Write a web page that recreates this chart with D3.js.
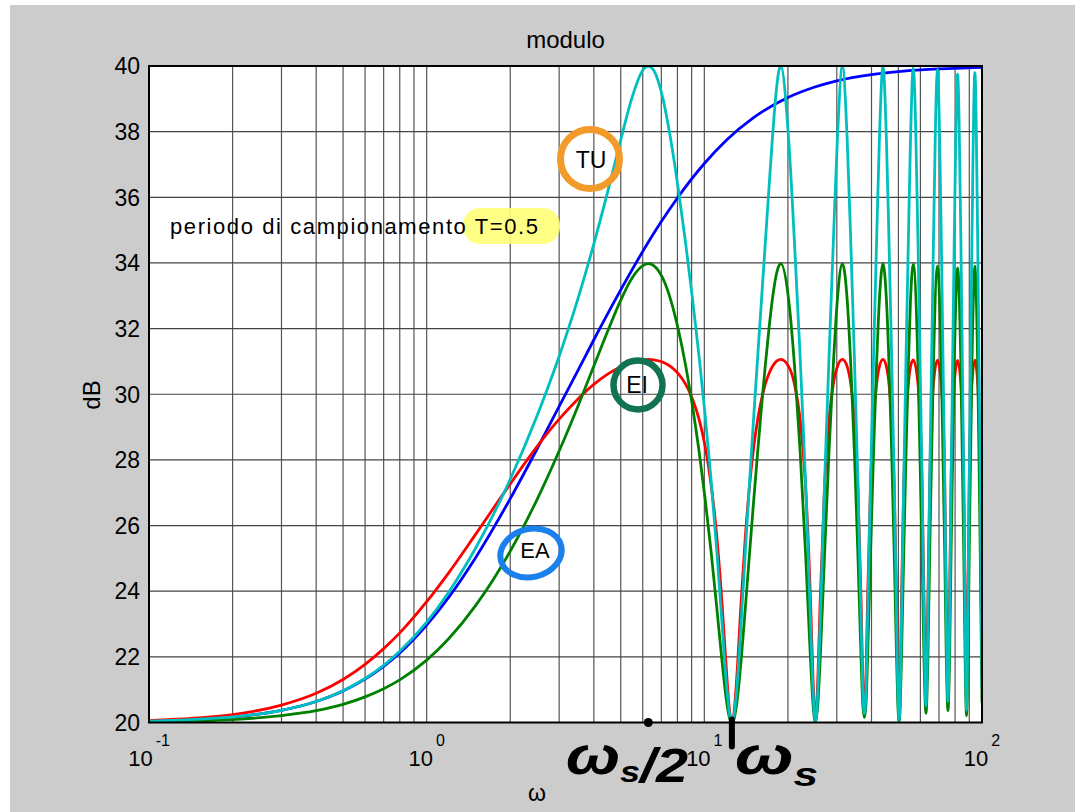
<!DOCTYPE html>
<html>
<head>
<meta charset="utf-8">
<script src="https://cdn.jsdelivr.net/npm/d3@7"></script>
<style>
  body { margin: 0; background: #fff; }
  text { font-family: "Liberation Sans", Arial, sans-serif; fill: #000; }
</style>
</head>
<body>
<div id="chart"></div>
<script>
// sizes of the figure and of the axes box
const width = 1075;
const height = 812;
const margin = {left: 149, right: 93, top: 66, bottom: 89.5};

// continuous system (blue)
const omegaC = [0.1, 0.2, 0.3, 0.4, 0.5, 0.6, 0.7, 0.8, 1, 1.2, 1.5, 2, 2.5, 3, 3.5, 4, 5, 6, 7, 8,
                10, 12, 15, 20, 25, 30, 40, 50, 60, 70, 80, 100];
const dbC = [20.04, 20.17, 20.37, 20.64, 20.96, 21.32, 21.71, 22.12, 22.97, 23.81, 25.02, 26.82, 28.34,
             29.63, 30.71, 31.66, 33.18, 34.35, 35.26, 35.98, 37.03, 37.74, 38.42, 39.04, 39.36, 39.55,
             39.74, 39.83, 39.88, 39.91, 39.93, 39.96];

// discretised systems, read on the same omega points
const omega = [
  0.1, 0.15, 0.2, 0.3, 0.4, 0.5, 0.6, 0.7, 0.8, 1.0, 1.2, 1.5, 2.0, 2.5, 3.0, 3.5, 4.0, 4.5, 5.0, 5.5, 6.0, 6.28,
  6.57, 7.07, 7.57, 8.07, 8.57, 9.07, 9.57, 10.07, 10.57, 11.07, 11.57, 12.07, 12.37, 12.57,
  12.77, 13.07, 13.57, 14.07, 14.57, 15.07, 15.57, 16.07, 16.57, 17.07, 17.57, 18.07, 18.57, 18.85,
  20.13, 21.13, 22.13, 23.13, 24.13, 24.63, 25.13,
  25.63, 26.13, 27.13, 28.13, 29.13, 30.13, 31.42,
  32.70, 33.70, 34.70, 35.70, 36.70, 37.20, 37.70,
  38.20, 38.70, 39.70, 40.70, 41.70, 42.70, 43.98,
  45.27, 46.27, 47.27, 48.27, 49.27, 49.77, 50.27,
  50.77, 51.27, 52.27, 53.27, 54.27, 55.27, 56.55,
  58.83, 60.83, 61.83, 62.83,
  63.83, 64.83, 66.83, 69.12,
  71.40, 73.40, 74.40, 75.40,
  76.40, 77.40, 79.40, 81.68,
  83.96, 85.96, 86.96, 87.96,
  88.96, 89.96, 91.96, 94.25,
  96.53, 98.53, 100
];

// EI - red
const dbEI = [
  20.06, 20.14, 20.24, 20.53, 20.89, 21.31, 21.77, 22.25, 22.73, 23.68, 24.56, 25.73, 27.27, 28.41, 29.24, 29.85, 30.30, 30.62, 30.84, 30.98, 31.05, 31.06,
  31.05, 30.98, 30.84, 30.62, 30.30, 29.85, 29.24, 28.41, 27.27, 25.73, 23.68, 21.31, 20.24, 20.00,
  20.24, 21.31, 23.68, 25.73, 27.27, 28.41, 29.24, 29.85, 30.30, 30.62, 30.84, 30.98, 31.05, 31.06,
  30.84, 30.30, 29.24, 27.27, 23.68, 21.31, 20.00,
  21.31, 23.68, 27.27, 29.24, 30.30, 30.84, 31.06,
  30.84, 30.30, 29.24, 27.27, 23.68, 21.31, 20.38,
  21.31, 23.68, 27.27, 29.24, 30.30, 30.84, 31.06,
  30.84, 30.30, 29.24, 27.27, 23.68, 21.31, 20.06,
  21.31, 23.68, 27.27, 29.24, 30.30, 30.84, 31.05,
  30.30, 27.27, 23.68, 20.70,
  23.68, 27.27, 30.30, 31.04,
  30.30, 27.27, 23.68, 20.89,
  23.68, 27.27, 30.30, 31.03,
  30.30, 27.27, 23.68, 20.53,
  23.68, 27.27, 30.30, 31.04,
  30.30, 27.27, 21.43
];

// EA - green
const dbEA = [
  20.02, 20.05, 20.09, 20.21, 20.36, 20.55, 20.78, 21.03, 21.30, 21.90, 22.55, 23.56, 25.22, 26.80, 28.27, 29.62, 30.86, 31.95, 32.87, 33.55, 33.92, 33.98,
  33.92, 33.55, 32.87, 31.95, 30.86, 29.62, 28.27, 26.80, 25.22, 23.56, 21.90, 20.55, 20.09, 20.00,
  20.09, 20.55, 21.90, 23.56, 25.22, 26.80, 28.27, 29.62, 30.86, 31.95, 32.87, 33.55, 33.92, 33.98,
  32.87, 30.86, 28.27, 25.22, 21.90, 20.55, 20.00,
  20.55, 21.90, 25.22, 28.27, 30.86, 32.87, 33.98,
  32.87, 30.86, 28.27, 25.22, 21.90, 20.55, 20.15,
  20.55, 21.90, 25.22, 28.27, 30.86, 32.87, 33.98,
  32.87, 30.86, 28.27, 25.22, 21.90, 20.55, 20.02,
  20.55, 21.90, 25.22, 28.27, 30.86, 32.87, 33.96,
  30.86, 25.22, 21.90, 20.28,
  21.90, 25.22, 30.86, 33.90,
  30.86, 25.22, 21.90, 20.36,
  21.90, 25.22, 30.86, 33.85,
  30.86, 25.22, 21.90, 20.21,
  21.90, 25.22, 30.86, 33.90,
  30.86, 25.22, 20.61
];

// TU - cyan
const dbTU = [
  20.04, 20.10, 20.17, 20.37, 20.64, 20.97, 21.34, 21.74, 22.17, 23.06, 23.97, 25.31, 27.41, 29.35, 31.16, 32.89, 34.58, 36.21, 37.75, 39.06, 39.87, 40.00,
  39.87, 39.06, 37.75, 36.21, 34.58, 32.89, 31.16, 29.35, 27.41, 25.31, 23.06, 20.97, 20.17, 20.00,
  20.17, 20.97, 23.06, 25.31, 27.41, 29.35, 31.16, 32.89, 34.58, 36.21, 37.75, 39.06, 39.87, 40.00,
  37.75, 34.58, 31.16, 27.41, 23.06, 20.97, 20.00,
  20.97, 23.06, 27.41, 31.16, 34.58, 37.75, 40.00,
  37.75, 34.58, 31.16, 27.41, 23.06, 20.97, 20.27,
  20.97, 23.06, 27.41, 31.16, 34.58, 37.75, 40.00,
  37.75, 34.58, 31.16, 27.41, 23.06, 20.97, 20.04,
  20.97, 23.06, 27.41, 31.16, 34.58, 37.75, 39.95,
  34.58, 27.41, 23.06, 20.50,
  23.06, 27.41, 34.58, 39.90,
  34.58, 27.41, 23.06, 20.64,
  23.06, 27.41, 34.58, 39.75,
  34.58, 27.41, 23.06, 20.37,
  23.06, 27.41, 34.58, 39.80,
  34.58, 27.41, 21.06
];

const yTicks = [20, 22, 24, 26, 28, 30, 32, 34, 36, 38, 40];
const xDecades = [0.1, 1, 10, 100];
const xExponents = ["-1", "0", "1", "2"];

const svg = d3.select("#chart")
  .append("svg")
  .attr("width", width)
  .attr("height", height);

// grey figure background
svg.append("rect")
  .attr("x", 10).attr("y", 5)
  .attr("width", width - 10).attr("height", height - 5)
  .attr("fill", "#cccccc");

const x = d3.scaleLog()
  .domain([0.1, 100])
  .range([margin.left, width - margin.right]);

const y = d3.scaleLinear()
  .domain([20, 40])
  .range([height - margin.bottom, margin.top]);

svg.append("rect")
  .attr("x", margin.left).attr("y", margin.top)
  .attr("width", x.range()[1] - margin.left)
  .attr("height", y.range()[0] - margin.top)
  .attr("fill", "#fff");

// grid
svg.append("g")
  .selectAll("line")
  .data(x.ticks())
  .join("line")
    .attr("x1", d => x(d)).attr("x2", d => x(d))
    .attr("y1", margin.top).attr("y2", y(20))
    .attr("stroke", "#555")
    .attr("stroke-width", 1.2);

svg.append("g")
  .selectAll("line")
  .data(yTicks)
  .join("line")
    .attr("x1", margin.left).attr("x2", x(100))
    .attr("y1", d => y(d)).attr("y2", d => y(d))
    .attr("stroke", "#444")
    .attr("stroke-width", 1.2);

// highlight behind T=0.5
svg.append("rect")
  .attr("x", 463).attr("y", 208)
  .attr("width", 97).attr("height", 36)
  .attr("rx", 17)
  .attr("fill", "#ffff78")
  .attr("opacity", 0.9);

svg.append("text")
  .attr("x", 170).attr("y", 234)
  .attr("font-size", "22px")
  .attr("textLength", 368)
  .attr("lengthAdjust", "spacing")
  .text("periodo di campionamento T=0.5");

// curves
svg.append("clipPath").attr("id", "plotclip")
  .append("rect")
  .attr("x", margin.left).attr("y", margin.top - 1)
  .attr("width", x.range()[1] - margin.left)
  .attr("height", y.range()[0] - margin.top + 1);

const line = d3.line()
  .x(d => x(d[0]))
  .y(d => y(d[1]))
  .curve(d3.curveMonotoneX);

const series = [
  {pts: d3.zip(omegaC, dbC), color: "#0000ff"},
  {pts: d3.zip(omega, dbEI), color: "#ff0000"},
  {pts: d3.zip(omega, dbEA), color: "#008000"},
  {pts: d3.zip(omega, dbTU), color: "#00bfbf"}
];

svg.append("g")
  .attr("clip-path", "url(#plotclip)")
  .selectAll("path")
  .data(series)
  .join("path")
    .attr("d", d => line(d.pts))
    .attr("fill", "none")
    .attr("stroke", d => d.color)
    .attr("stroke-width", 2.8)
    .attr("stroke-linejoin", "round");

// axes box
svg.append("rect")
  .attr("x", margin.left).attr("y", margin.top)
  .attr("width", x.range()[1] - margin.left)
  .attr("height", y.range()[0] - margin.top)
  .attr("fill", "none")
  .attr("stroke", "#000")
  .attr("stroke-width", 2);

// y labels
svg.append("g")
  .selectAll("text")
  .data(yTicks)
  .join("text")
    .attr("x", 140)
    .attr("y", d => y(d))
    .attr("dy", "0.36em")
    .attr("text-anchor", "end")
    .attr("font-size", "23px")
    .text(d => d);

// x labels 10^k
const xl = svg.append("g")
  .selectAll("text")
  .data(xDecades)
  .join("text")
    .attr("x", d => x(d))
    .attr("y", 766)
    .attr("text-anchor", "middle")
    .attr("font-size", "22px");
xl.append("tspan").text("10");
xl.append("tspan")
  .attr("dy", -20)
  .attr("dx", 3)
  .attr("font-size", "16px")
  .text((d, i) => xExponents[i]);

svg.append("text")
  .attr("x", x.range()[0] / 2 + x.range()[1] / 2)
  .attr("y", 48)
  .attr("text-anchor", "middle")
  .attr("font-size", "24px")
  .text("modulo");

svg.append("text")
  .attr("transform", "translate(100,395) rotate(-90)")
  .attr("text-anchor", "middle")
  .attr("font-size", "24px")
  .text("dB");

svg.append("text")
  .attr("x", 537).attr("y", 801)
  .attr("text-anchor", "middle")
  .attr("font-family", "Liberation Serif, serif")
  .attr("font-size", "23px")
  .text("ω");

// circled annotations
svg.append("circle")
  .attr("cx", 590).attr("cy", 159).attr("r", 29.5)
  .attr("fill", "none").attr("stroke", "#f39b2a").attr("stroke-width", 7);
svg.append("text")
  .attr("x", 591).attr("y", 168)
  .attr("text-anchor", "middle").attr("font-size", "23px")
  .text("TU");

svg.append("circle")
  .attr("cx", 638).attr("cy", 385).attr("r", 24.5)
  .attr("fill", "none").attr("stroke", "#127352").attr("stroke-width", 6.5);
svg.append("text")
  .attr("x", 637).attr("y", 393)
  .attr("text-anchor", "middle").attr("font-size", "23px")
  .text("EI");

svg.append("ellipse")
  .attr("transform", "translate(531,553) rotate(-14)")
  .attr("rx", 31).attr("ry", 24)
  .attr("fill", "none").attr("stroke", "#1a80ec").attr("stroke-width", 6);
svg.append("text")
  .attr("x", 535).attr("y", 558)
  .attr("text-anchor", "middle").attr("font-size", "22px")
  .text("EA");

// hand-written marks for ws/2 and ws
const ws = 2 * Math.PI / 0.5;
svg.append("circle")
  .attr("cx", x(ws / 2)).attr("cy", y(20)).attr("r", 4.5)
  .attr("fill", "#000");
svg.append("line")
  .attr("x1", x(ws)).attr("x2", x(ws))
  .attr("y1", y(20) - 3).attr("y2", y(20) + 24)
  .attr("stroke", "#000").attr("stroke-width", 6)
  .attr("stroke-linecap", "round");

const hand = svg.append("g")
  .attr("font-family", "DejaVu Serif, serif")
  .attr("font-style", "italic")
  .attr("font-weight", "bold");
const h1 = hand.append("text")
  .attr("transform", "translate(566,774) scale(1.2,1)")
  .attr("font-size", "54px");
h1.append("tspan").text("ω");
h1.append("tspan").attr("font-size", "30px").attr("dy", 8).text("s");
h1.append("tspan").attr("font-size", "48px").attr("dy", 0).text("/2");
const h2 = hand.append("text")
  .attr("transform", "translate(735,774) scale(1.3,1)")
  .attr("font-size", "54px");
h2.append("tspan").text("ω");
h2.append("tspan").attr("font-size", "34px").attr("dy", 12).text("s");
</script>
</body>
</html>
